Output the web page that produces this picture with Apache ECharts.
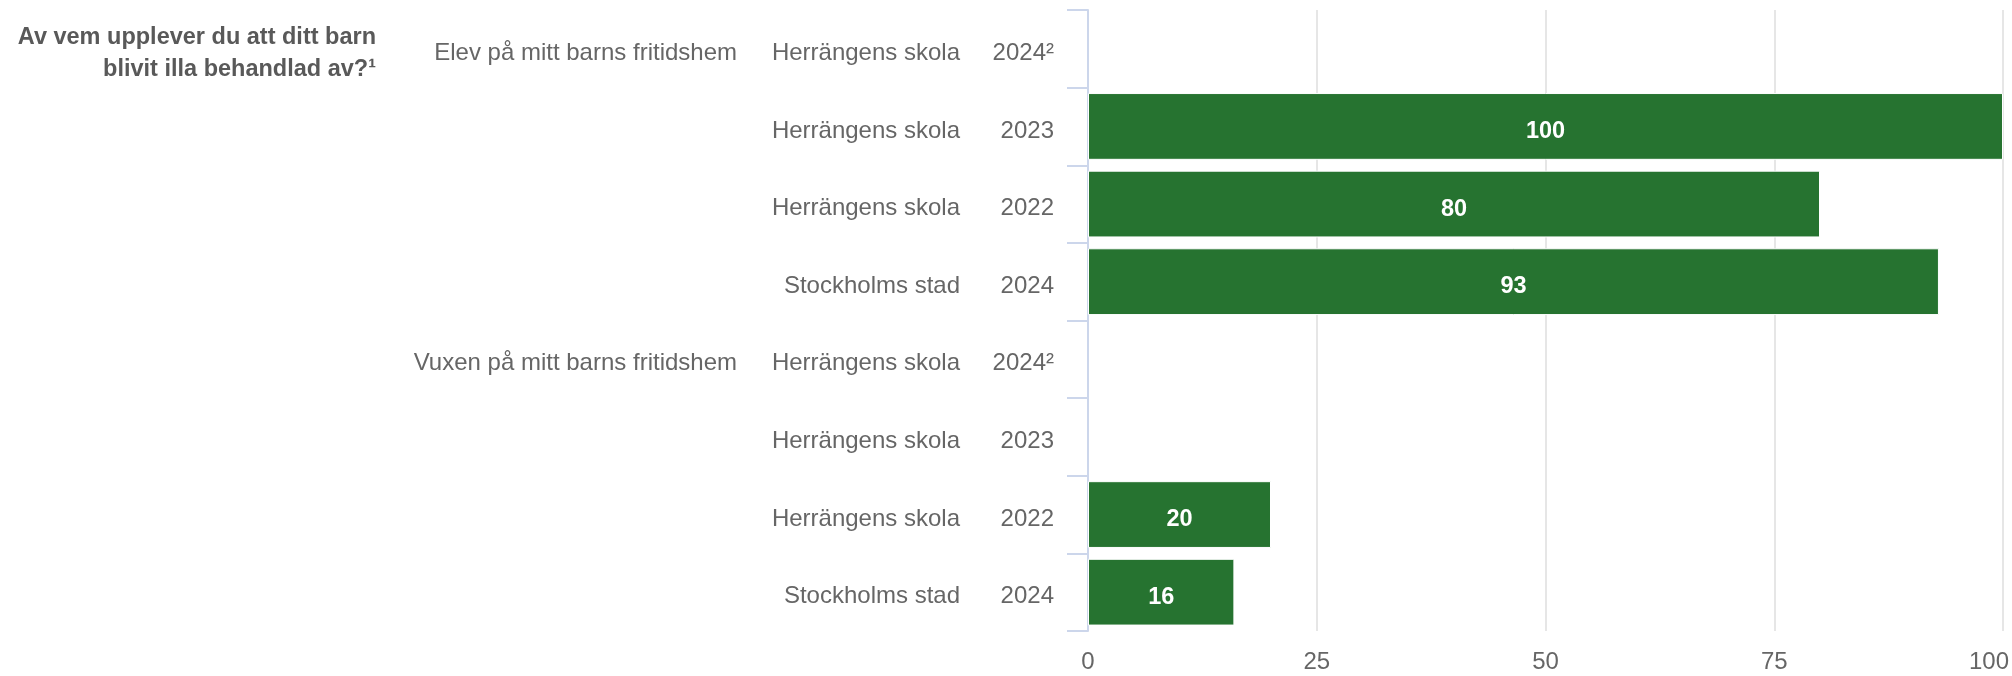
<!DOCTYPE html>
<html>
<head>
<meta charset="utf-8">
<script src="https://cdn.jsdelivr.net/npm/echarts@6/dist/echarts.min.js"></script>
<style>
html,body{margin:0;padding:0;background:#fff;}
#chart{width:2012px;height:676px;}
</style>
</head>
<body>
<div id="chart"></div>
<script>
const question = "Av vem upplever du att ditt barn\nblivit illa behandlad av?¹";
const groups = ["Elev på mitt barns fritidshem", "Vuxen på mitt barns fritidshem"];
const units = ["Herrängens skola", "Herrängens skola", "Herrängens skola", "Stockholms stad"];
const years = ["2024²", "2023", "2022", "2024"];
const elevValues = [null, 100, 80, 93];
const vuxenValues = [null, null, 20, 16];
const xTicks = [0, 25, 50, 75, 100];

const FONT = "'Liberation Sans', Arial, sans-serif";
const FS = 24;

// build category rows
const yearCats = [], unitCats = [], groupCats = [], values = [];
groups.forEach((g, gi) => {
  const vals = gi === 0 ? elevValues : vuxenValues;
  units.forEach((u, ui) => {
    yearCats.push(years[ui]);
    unitCats.push(u);
    groupCats.push(ui === 0 ? g : '');
    values.push(vals[ui]);
  });
});

// vertical nudge: top-aligned text with a small line box sits slightly below band centre
const rowLabelStyle = {
  interval: 0,
  color: '#666666',
  fontSize: FS,
  fontFamily: FONT,
  verticalAlign: 'top',
  lineHeight: 9
};

function labelAxis(data, margin) {
  return {
    type: 'category',
    inverse: true,
    position: 'left',
    data: data,
    axisLine: { show: false },
    axisTick: { show: false },
    splitLine: { show: false },
    axisLabel: Object.assign({}, rowLabelStyle, { margin: margin })
  };
}

const xMax = xTicks[xTicks.length - 1];

const chart = echarts.init(document.getElementById('chart'), null, { renderer: 'canvas' });
chart.setOption({
  animation: false,
  backgroundColor: '#ffffff',
  grid: { left: 1088, right: 9, top: 10, bottom: 45, containLabel: false, outerBoundsMode: 'none' },
  graphic: [{
    type: 'text',
    x: 376,
    y: 22,
    style: {
      text: question,
      align: 'right',
      verticalAlign: 'top',
      lineHeight: 32,
      fill: '#595959',
      font: "bold 23.5px 'Liberation Sans', Arial, sans-serif"
    }
  }],
  xAxis: {
    type: 'value',
    min: xTicks[0],
    max: xMax,
    interval: 25,
    axisLine: { show: false },
    axisTick: { show: false },
    splitLine: { show: true, lineStyle: { color: '#e6e6e6', width: 2 } },
    axisLabel: {
      color: '#666666', fontSize: FS, fontFamily: FONT, margin: 19,
      formatter: function (v) { return v === xMax ? '{m|' + v + '}' : String(v); },
      rich: { m: { color: '#666666', fontSize: FS, fontFamily: FONT, padding: [0, 28, 0, 0] } }
    }
  },
  yAxis: [
    {
      type: 'category',
      inverse: true,
      position: 'left',
      data: yearCats,
      axisLine: { show: true, lineStyle: { color: '#ccd6eb', width: 2 } },
      axisTick: { show: true, length: 21, lineStyle: { color: '#ccd6eb', width: 2 } },
      splitLine: { show: false },
      axisLabel: Object.assign({}, rowLabelStyle, { margin: 34 })
    },
    labelAxis(unitCats, 128),
    labelAxis(groupCats, 351)
  ],
  series: [{
    type: 'bar',
    yAxisIndex: 0,
    data: values,
    barCategoryGap: '14%',
    itemStyle: { color: '#267330', borderColor: '#ffffff', borderWidth: 1 },
    label: {
      show: true,
      position: 'inside',
      offset: [0, 5],
      color: '#ffffff',
      fontWeight: 'bold',
      fontSize: 23.5,
      fontFamily: FONT
    }
  }]
});
</script>
</body>
</html>
